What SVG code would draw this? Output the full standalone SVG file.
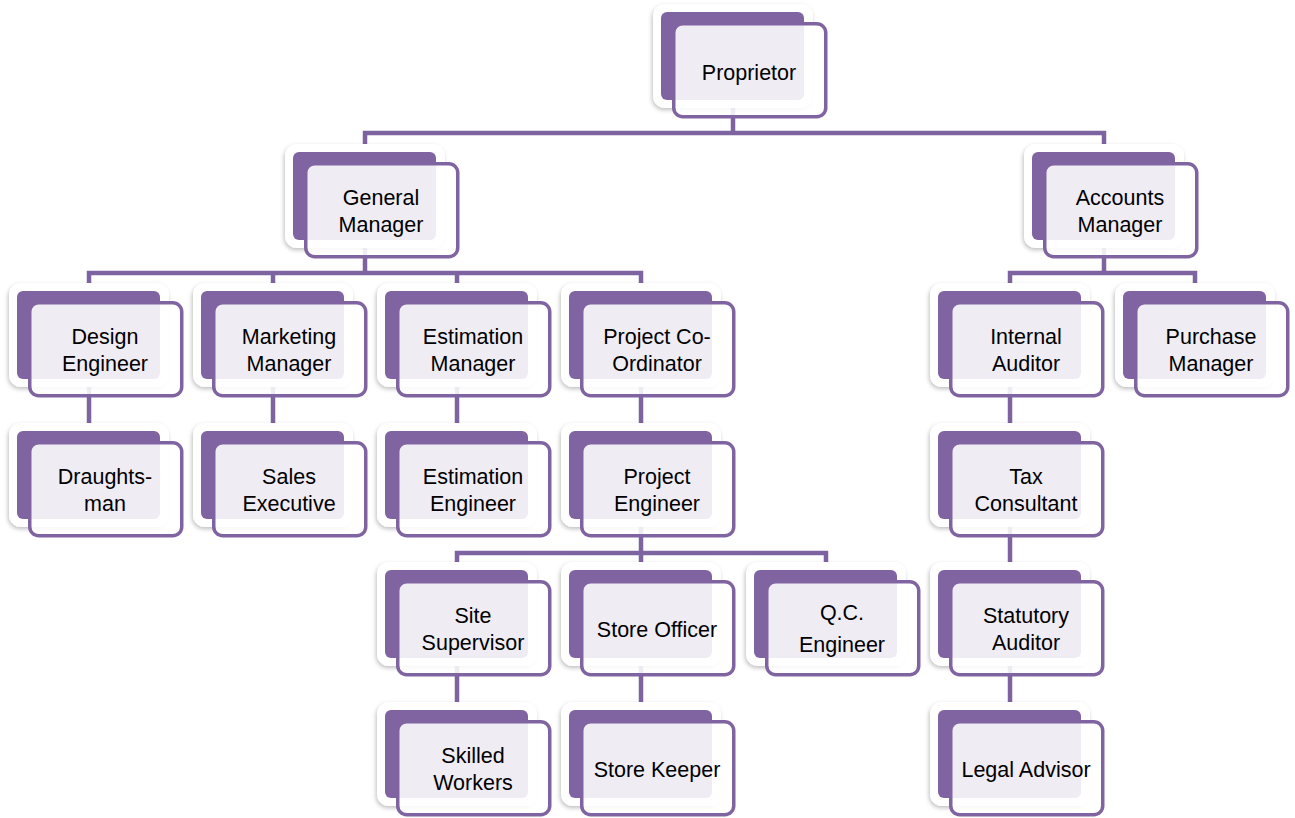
<svg xmlns="http://www.w3.org/2000/svg" xmlns:xlink="http://www.w3.org/1999/xlink" width="1295" height="818" viewBox="0 0 1295 818">
<style>
.conn{fill:none;stroke:#7E63A1;stroke-width:4.5;stroke-linejoin:miter;stroke-linecap:butt}
.back{fill:#ffffff}
.mid{fill:#8064A2}
.front{fill:#ffffff;fill-opacity:0.88;stroke:#8064A2;stroke-width:3.5}
.t{font-family:"Liberation Sans",Arial,sans-serif;font-size:21.5px;fill:#000;text-anchor:middle}
</style>
<defs>
<filter id="sh" x="-20%" y="-20%" width="140%" height="140%">
<feDropShadow dx="-1" dy="2" stdDeviation="2.2" flood-color="#000" flood-opacity="0.25"/>
</filter>
<g id="card">
<rect class="back" x="-19" y="-18" width="160" height="104" rx="12" filter="url(#sh)"/>
<rect class="mid" x="-11" y="-10" width="143" height="88" rx="6"/>
<rect class="front" x="1.75" y="1.75" width="152" height="93" rx="9"/>
</g>
</defs>
<rect width="1295" height="818" fill="#ffffff"/>
<g id="connectors">
<path class="conn" d="M733 60 V133 M365 200 V133 H1104 V200"/>
<path class="conn" d="M365 200 V273 M89 330 V273 H641 V330 M273 273 V330 M457 273 V330"/>
<path class="conn" d="M1104 200 V273 M1010 330 V273 H1195 V330"/>
<path class="conn" d="M89 330 V470 M273 330 V470 M457 330 V470 M641 330 V470"/>
<path class="conn" d="M641 470 V553 M457 610 V553 H826 V610 M641 553 V610"/>
<path class="conn" d="M457 610 V750 M641 610 V750 M1010 330 V750"/>
</g>
<g id="n-proprietor" transform="translate(672,22)"><use xlink:href="#card"/><text class="t" x="77" y="58">Proprietor</text></g>
<g id="n-general-manager" transform="translate(304,162)"><use xlink:href="#card"/><text class="t" x="77" y="43">General</text><text class="t" x="77" y="70">Manager</text></g>
<g id="n-accounts-manager" transform="translate(1043,162)"><use xlink:href="#card"/><text class="t" x="77" y="43">Accounts</text><text class="t" x="77" y="70">Manager</text></g>
<g id="n-design-engineer" transform="translate(28,301)"><use xlink:href="#card"/><text class="t" x="77" y="43">Design</text><text class="t" x="77" y="70">Engineer</text></g>
<g id="n-marketing-manager" transform="translate(212,301)"><use xlink:href="#card"/><text class="t" x="77" y="43">Marketing</text><text class="t" x="77" y="70">Manager</text></g>
<g id="n-estimation-manager" transform="translate(396,301)"><use xlink:href="#card"/><text class="t" x="77" y="43">Estimation</text><text class="t" x="77" y="70">Manager</text></g>
<g id="n-project-coordinator" transform="translate(580,301)"><use xlink:href="#card"/><text class="t" x="77" y="43">Project Co-</text><text class="t" x="77" y="70">Ordinator</text></g>
<g id="n-internal-auditor" transform="translate(949,301)"><use xlink:href="#card"/><text class="t" x="77" y="43">Internal</text><text class="t" x="77" y="70">Auditor</text></g>
<g id="n-purchase-manager" transform="translate(1134,301)"><use xlink:href="#card"/><text class="t" x="77" y="43">Purchase</text><text class="t" x="77" y="70">Manager</text></g>
<g id="n-draughtsman" transform="translate(28,441)"><use xlink:href="#card"/><text class="t" x="77" y="43">Draughts-</text><text class="t" x="77" y="70">man</text></g>
<g id="n-sales-executive" transform="translate(212,441)"><use xlink:href="#card"/><text class="t" x="77" y="43">Sales</text><text class="t" x="77" y="70">Executive</text></g>
<g id="n-estimation-engineer" transform="translate(396,441)"><use xlink:href="#card"/><text class="t" x="77" y="43">Estimation</text><text class="t" x="77" y="70">Engineer</text></g>
<g id="n-project-engineer" transform="translate(580,441)"><use xlink:href="#card"/><text class="t" x="77" y="43">Project</text><text class="t" x="77" y="70">Engineer</text></g>
<g id="n-tax-consultant" transform="translate(949,441)"><use xlink:href="#card"/><text class="t" x="77" y="43">Tax</text><text class="t" x="77" y="70">Consultant</text></g>
<g id="n-site-supervisor" transform="translate(396,580)"><use xlink:href="#card"/><text class="t" x="77" y="43">Site</text><text class="t" x="77" y="70">Supervisor</text></g>
<g id="n-store-officer" transform="translate(580,580)"><use xlink:href="#card"/><text class="t" x="77" y="57">Store Officer</text></g>
<g id="n-qc-engineer" transform="translate(765,580)"><use xlink:href="#card"/><text class="t" x="77" y="40">Q.C.</text><text class="t" x="77" y="72">Engineer</text></g>
<g id="n-statutory-auditor" transform="translate(949,580)"><use xlink:href="#card"/><text class="t" x="77" y="43">Statutory</text><text class="t" x="77" y="70">Auditor</text></g>
<g id="n-skilled-workers" transform="translate(396,720)"><use xlink:href="#card"/><text class="t" x="77" y="43">Skilled</text><text class="t" x="77" y="70">Workers</text></g>
<g id="n-store-keeper" transform="translate(580,720)"><use xlink:href="#card"/><text class="t" x="77" y="57">Store Keeper</text></g>
<g id="n-legal-advisor" transform="translate(949,720)"><use xlink:href="#card"/><text class="t" x="77" y="57">Legal Advisor</text></g>
</svg>
